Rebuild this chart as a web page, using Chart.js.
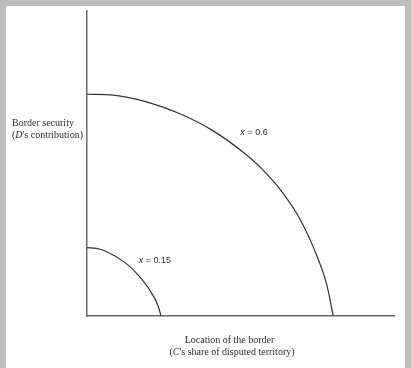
<!DOCTYPE html>
<html>
<head>
<meta charset="utf-8">
<script src="https://cdn.jsdelivr.net/npm/chart.js@4/dist/chart.umd.min.js"></script>
<style>
  html, body { margin: 0; padding: 0; width: 411px; height: 368px; overflow: hidden; background: #bdbdbd; }
  #paper { position: absolute; left: 6px; top: 6px; width: 399px; height: 362px; background: #ffffff; }
  #c { position: absolute; left: 0; top: 0; }
</style>
</head>
<body>
<div id="paper"></div>
<canvas id="c" width="411" height="368"></canvas>
<script>
// Curve for x = 0.6 (axis fractions)
const bigX = [0, 0.086, 0.194, 0.303, 0.411, 0.520, 0.564, 0.629, 0.694, 0.748, 0.781, 0.802];
const bigY = [0.727, 0.724, 0.702, 0.663, 0.607, 0.528, 0.488, 0.415, 0.317, 0.199, 0.103, 0];
// Curve for x = 0.15
const smallX = [0, 0.030, 0.059, 0.124, 0.167, 0.210, 0.232, 0.241];
const smallY = [0.224, 0.222, 0.213, 0.175, 0.134, 0.076, 0.032, 0];
// Curve labels and axis titles
const curveLabels = ['x = 0.6', 'x = 0.15'];
const yTitle = ['Border security', "(D's contribution)"];
const xTitle = ['Location of the border', "(C's share of disputed territory)"];

const toPts = (xs, ys) => xs.map((x, i) => ({ x: x, y: ys[i] }));

const labelPlugin = {
  id: 'labels',
  afterDraw(chart) {
    const ctx = chart.ctx;
    const xs = chart.scales.x, ys = chart.scales.y;
    ctx.save();
    ctx.fillStyle = '#2b2b2b';
    ctx.textBaseline = 'middle';
    const drawEq = (txt, cx, cy) => {
      const iFont = 'italic 9px "Liberation Sans", Arial, sans-serif';
      const nFont = '9px "Liberation Sans", Arial, sans-serif';
      const first = txt.slice(0, 1), rest = txt.slice(1);
      ctx.font = iFont; const w1 = ctx.measureText(first).width;
      ctx.font = nFont; const w2 = ctx.measureText(rest).width;
      let x0 = cx - (w1 + w2) / 2;
      ctx.textAlign = 'left';
      ctx.font = iFont; ctx.fillText(first, x0, cy);
      ctx.font = nFont; ctx.fillText(rest, x0 + w1, cy);
    };
    drawEq(curveLabels[0], xs.getPixelForValue(0.544), ys.getPixelForValue(0.603));
    drawEq(curveLabels[1], xs.getPixelForValue(0.221), ys.getPixelForValue(0.181));

    const serif = '10px "Liberation Serif", "Times New Roman", serif';
    const serifI = 'italic 10px "Liberation Serif", "Times New Roman", serif';
    const drawMixed = (txt, x, y, align) => {
      let parts;
      if (txt.startsWith('(')) parts = [['(', serif], [txt.slice(1, 2), serifI], [txt.slice(2), serif]];
      else parts = [[txt, serif]];
      let total = 0;
      parts.forEach(p => { ctx.font = p[1]; total += ctx.measureText(p[0]).width; });
      let x0 = align === 'center' ? x - total / 2 : x;
      ctx.textAlign = 'left';
      parts.forEach(p => { ctx.font = p[1]; ctx.fillText(p[0], x0, y); x0 += ctx.measureText(p[0]).width; });
    };
    drawMixed(yTitle[0], 12, 123.5, 'left');
    drawMixed(yTitle[1], 12, 135.5, 'left');
    drawMixed(xTitle[0], 229.5, 340.5, 'center');
    drawMixed(xTitle[1], 232, 352.5, 'center');
    ctx.restore();
  }
};

new Chart(document.getElementById('c'), {
  type: 'scatter',
  data: {
    datasets: [
      { data: toPts(bigX, bigY), showLine: true, borderColor: '#333333', borderWidth: 1.2, pointRadius: 0, cubicInterpolationMode: 'monotone', fill: false, clip: false },
      { data: toPts(smallX, smallY), showLine: true, borderColor: '#333333', borderWidth: 1.2, pointRadius: 0, cubicInterpolationMode: 'monotone', fill: false, clip: false }
    ]
  },
  options: {
    responsive: false,
    animation: false,
    devicePixelRatio: 1,
    layout: { padding: { left: 87, top: 11, right: 17, bottom: 52 } },
    plugins: { legend: { display: false }, tooltip: { enabled: false } },
    scales: {
      x: { type: 'linear', min: 0, max: 1, grid: { display: false, drawTicks: false }, ticks: { display: false },
           border: { display: true, color: '#6a6a6a', width: 1.5 } },
      y: { type: 'linear', min: 0, max: 1, grid: { display: false, drawTicks: false }, ticks: { display: false },
           border: { display: true, color: '#6a6a6a', width: 1.5 } }
    }
  },
  plugins: [labelPlugin]
});
</script>
</body>
</html>
